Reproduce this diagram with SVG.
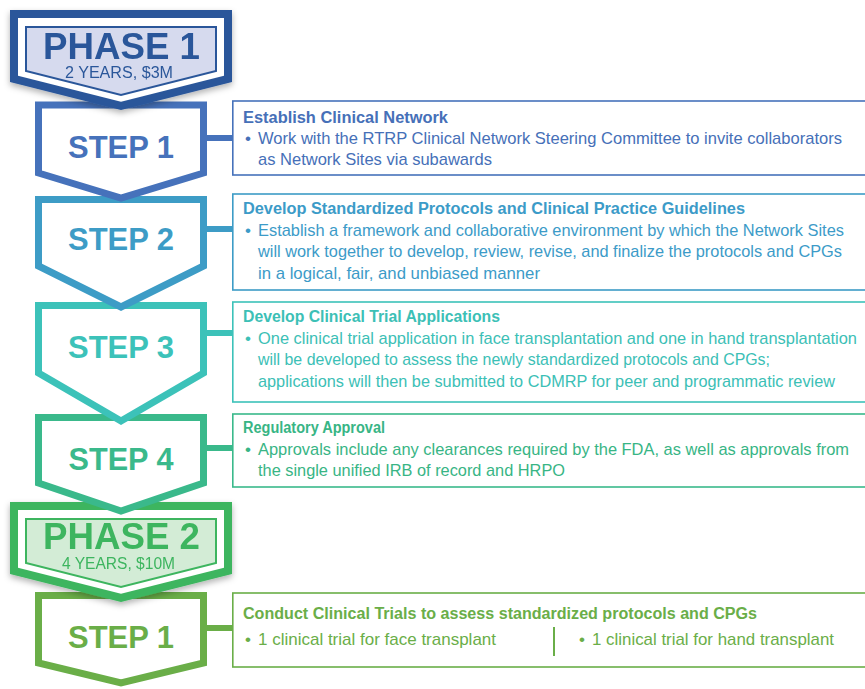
<svg xmlns="http://www.w3.org/2000/svg" width="865" height="689" viewBox="0 0 865 689">
<defs>
<filter id="sh" x="-10%" y="-10%" width="120%" height="130%">
<feDropShadow dx="0" dy="3" stdDeviation="3" flood-color="#000" flood-opacity="0.3"/>
</filter>
</defs>
<style>
text{font-family:"Liberation Sans",Arial,sans-serif}
.step{fill:#fff;stroke-width:7;stroke-linejoin:miter}
.stxt{font-size:32px;font-weight:bold;text-anchor:middle}
.ph{font-size:37px;font-weight:bold;text-anchor:middle}
.phs{font-size:16px;text-anchor:middle}
.box{fill:#fff;stroke-width:1.6}
.hd{font-size:16px;font-weight:bold}
.bd{font-size:17px}
.conn{stroke-width:6;fill:none}
</style>
<rect width="865" height="689" fill="#fff"/>

<g id="p2step1">
<polygon class="step" stroke="#6aae48" points="38.5,595.5 203.5,595.5 203.5,663 121,683 38.5,663"/>
<text class="stxt" x="121" y="648" fill="#6aae48" textLength="106" lengthAdjust="spacingAndGlyphs">STEP 1</text>
</g>

<g id="phase2" filter="url(#sh)">
<polygon fill="#3db55f" points="10,502 232,502 232,574 121,602 10,574"/>
<polygon fill="#fff" points="18,510 224,510 224,567.8 121,593.8 18,567.8"/>
<polygon fill="#d3ecd6" stroke="#3db55f" stroke-width="2" points="26,519 216,519 216,563 121,587 26,563"/>
<text class="ph" x="121.5" y="549" fill="#3db55f" textLength="157" lengthAdjust="spacingAndGlyphs">PHASE 2</text>
<text class="phs" x="118.5" y="569" fill="#3db55f" textLength="113" lengthAdjust="spacingAndGlyphs">4 YEARS, $10M</text>
</g>

<g id="step4">
<polygon class="step" stroke="#3ab98b" points="38.5,417.5 203.5,417.5 203.5,483 121,511 38.5,483"/>
<text class="stxt" x="121" y="470" fill="#3ab98b" textLength="105" lengthAdjust="spacingAndGlyphs">STEP 4</text>
</g>

<g id="step3">
<polygon class="step" stroke="#3cc2b9" points="38.5,305.5 203.5,305.5 203.5,373 121,421 38.5,373"/>
<text class="stxt" x="121" y="358" fill="#3cc2b9" textLength="106" lengthAdjust="spacingAndGlyphs">STEP 3</text>
</g>

<g id="step2">
<polygon class="step" stroke="#3d9cc6" points="38.5,199.5 203.5,199.5 203.5,266 121,307 38.5,266"/>
<text class="stxt" x="121" y="250" fill="#3d9cc6" textLength="106" lengthAdjust="spacingAndGlyphs">STEP 2</text>
</g>

<g id="step1">
<polygon class="step" stroke="#4672bb" points="38.5,105 203.5,105 203.5,173 121,198 38.5,173"/>
<text class="stxt" x="121" y="158" fill="#4672bb" textLength="106" lengthAdjust="spacingAndGlyphs">STEP 1</text>
</g>

<g id="phase1" filter="url(#sh)">
<polygon fill="#2b579a" points="10,10 232,10 232,82 121,110 10,82"/>
<polygon fill="#fff" points="18,18 224,18 224,75.8 121,101.8 18,75.8"/>
<polygon fill="#d6daee" stroke="#2b579a" stroke-width="2" points="26,27 216,27 216,71 121,95 26,71"/>
<text class="ph" x="121.5" y="59" fill="#2b579a" textLength="157" lengthAdjust="spacingAndGlyphs">PHASE 1</text>
<text class="phs" x="119" y="78" fill="#2b579a" textLength="108" lengthAdjust="spacingAndGlyphs">2 YEARS, $3M</text>
</g>

<g id="connectors">
<line class="conn" stroke="#4672bb" x1="207" y1="138" x2="233" y2="138"/>
<line class="conn" stroke="#3d9cc6" x1="207" y1="229" x2="233" y2="229"/>
<line class="conn" stroke="#3cc2b9" x1="207" y1="333" x2="233" y2="333"/>
<line class="conn" stroke="#3ab98b" x1="207" y1="448" x2="233" y2="448"/>
<line class="conn" stroke="#6aae48" x1="207" y1="628" x2="233" y2="628"/>
</g>

<g id="box1">
<rect class="box" stroke="#4672bb" x="232.8" y="101" width="640" height="74"/>
<g fill="#4670b8">
<text class="hd" x="243" y="123" textLength="205" lengthAdjust="spacingAndGlyphs">Establish Clinical Network</text>
<text class="bd" x="245" y="144">•</text>
<text class="bd" x="258" y="144" textLength="584" lengthAdjust="spacingAndGlyphs">Work with the RTRP Clinical Network Steering Committee to invite collaborators</text>
<text class="bd" x="258" y="165" textLength="234" lengthAdjust="spacingAndGlyphs">as Network Sites via subawards</text>
</g>
</g>

<g id="box2">
<rect class="box" stroke="#3d9cc6" x="232.8" y="194" width="640" height="96"/>
<g fill="#3c9bc8">
<text class="hd" x="243" y="214" textLength="502" lengthAdjust="spacingAndGlyphs">Develop Standardized Protocols and Clinical Practice Guidelines</text>
<text class="bd" x="245" y="235.5">•</text>
<text class="bd" x="258" y="235.5" textLength="586" lengthAdjust="spacingAndGlyphs">Establish a framework and collaborative environment by which the Network Sites</text>
<text class="bd" x="258" y="257" textLength="584" lengthAdjust="spacingAndGlyphs">will work together to develop, review, revise, and finalize the protocols and CPGs</text>
<text class="bd" x="258" y="278.5" textLength="282" lengthAdjust="spacingAndGlyphs">in a logical, fair, and unbiased manner</text>
</g>
</g>

<g id="box3">
<rect class="box" stroke="#3cc2b9" x="232.8" y="302" width="640" height="100"/>
<g fill="#3cc0b6">
<text class="hd" x="243" y="322" textLength="257" lengthAdjust="spacingAndGlyphs">Develop Clinical Trial Applications</text>
<text class="bd" x="245" y="343.5">•</text>
<text class="bd" x="258" y="343.5" textLength="599" lengthAdjust="spacingAndGlyphs">One clinical trial application in face transplantation and one in hand transplantation</text>
<text class="bd" x="258" y="365" textLength="512" lengthAdjust="spacingAndGlyphs">will be developed to assess the newly standardized protocols and CPGs;</text>
<text class="bd" x="258" y="386.5" textLength="577" lengthAdjust="spacingAndGlyphs">applications will then be submitted to CDMRP for peer and programmatic review</text>
</g>
</g>

<g id="box4">
<rect class="box" stroke="#3ab98b" x="232.8" y="414" width="640" height="73"/>
<g fill="#38b585">
<text class="hd" x="243" y="433" textLength="142" lengthAdjust="spacingAndGlyphs">Regulatory Approval</text>
<text class="bd" x="245" y="454.5">•</text>
<text class="bd" x="258" y="454.5" textLength="591" lengthAdjust="spacingAndGlyphs">Approvals include any clearances required by the FDA, as well as approvals from</text>
<text class="bd" x="258" y="476" textLength="307" lengthAdjust="spacingAndGlyphs">the single unified IRB of record and HRPO</text>
</g>
</g>

<g id="box5">
<rect class="box" stroke="#6aae48" x="232.8" y="593" width="640" height="74"/>
<g fill="#6aae48">
<text class="hd" x="243" y="619" textLength="514" lengthAdjust="spacingAndGlyphs">Conduct Clinical Trials to assess standardized protocols and CPGs</text>
<text class="bd" x="245" y="645">•</text>
<text class="bd" x="258" y="645" textLength="238" lengthAdjust="spacingAndGlyphs">1 clinical trial for face transplant</text>
<text class="bd" x="579" y="645">•</text>
<text class="bd" x="592" y="645" textLength="242" lengthAdjust="spacingAndGlyphs">1 clinical trial for hand transplant</text>
</g>
<line x1="554" y1="627" x2="554" y2="656" stroke="#6aae48" stroke-width="2"/>
</g>
</svg>
